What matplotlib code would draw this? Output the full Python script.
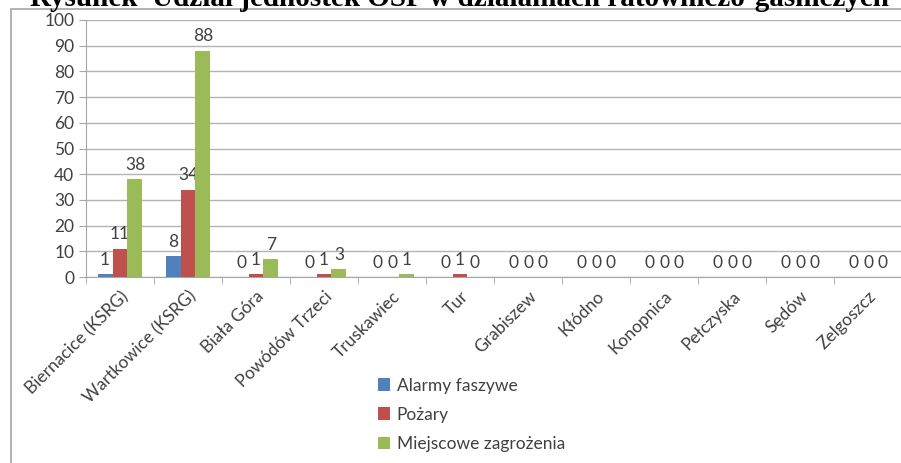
import matplotlib.pyplot as plt
import numpy as np

# data
units = ['Biernacice (KSRG)', 'Wartkowice (KSRG)', 'Biała Góra', 'Powódów Trzeci',
         'Truskawiec', 'Tur', 'Grabiszew', 'Kłódno', 'Konopnica', 'Pełczyska',
         'Sędów', 'Zelgoszcz']
alarmy = [1, 8, 0, 0, 0, 0, 0, 0, 0, 0, 0, 0]
pozary = [11, 34, 1, 1, 0, 1, 0, 0, 0, 0, 0, 0]
zagrozenia = [38, 88, 7, 3, 1, 0, 0, 0, 0, 0, 0, 0]
series = ['Alarmy faszywe', 'Pożary', 'Miejscowe zagrożenia']
colors = ['#4F81BD', '#C0504D', '#9BBB59']

plt.rcParams['font.family'] = ['Lato', 'DejaVu Sans']

fig = plt.figure(figsize=(9.01, 4.63), dpi=100)

# outer chart frame (partly cut off like in the picture)
frame = plt.Rectangle((11 / 901, -0.1), 1.0, 1.1 - 9 / 463, transform=fig.transFigure,
                      fill=False, edgecolor='#a6a6a6', linewidth=1.2)
fig.add_artist(frame)

# title, cut at the top edge
fig.text(30 / 901, 1 - 6 / 463, 'Rysunek  Udział jednostek OSP w działaniach ratowniczo-gaśniczych',
         family='Liberation Serif', fontweight='bold', fontsize=21, ha='left', va='baseline')

ax = fig.add_axes([86 / 901, 1 - 277 / 463, 816 / 901, 257 / 463])

x = np.arange(len(units))
w = 0.22
for i, (vals, name, c) in enumerate(zip([alarmy, pozary, zagrozenia], series, colors)):
    pos = x + (i - 1) * w
    ax.bar(pos, vals, width=w, color=c, label=name, zorder=3)
    for px, v in zip(pos, vals):
        ax.text(px, v + 2.5, str(v), ha='center', va='bottom', fontsize=12.5, color='#404040')

ax.set_xlim(-0.5, len(units) - 0.5)
ax.set_ylim(0, 100)
ax.set_yticks(range(0, 101, 10))
ax.yaxis.grid(True, color='#b3b3b3', linewidth=1, zorder=0)
ax.tick_params(axis='y', labelsize=12.5, labelcolor='#404040', color='#a6a6a6', length=5)

ax.set_xticks(x)
ax.set_xticklabels(units, rotation=45, ha='right', rotation_mode='anchor', fontsize=12.5, color='#404040')
ax.tick_params(axis='x', length=0, pad=8)
ax.set_xticks(np.arange(-0.5, len(units)), minor=True)
ax.tick_params(axis='x', which='minor', length=5, color='#a6a6a6')

for s in ['top', 'right']:
    ax.spines[s].set_visible(False)
ax.spines['left'].set_color('#a6a6a6')
ax.spines['bottom'].set_color('#a6a6a6')

fig.legend(loc='upper left', bbox_to_anchor=(362 / 901, 1 - 362 / 463), frameon=False,
           fontsize=12.5, labelcolor='#404040', handlelength=0.7, handleheight=0.7,
           labelspacing=0.75, handletextpad=0.4)

fig.savefig('out.png', dpi=100)
